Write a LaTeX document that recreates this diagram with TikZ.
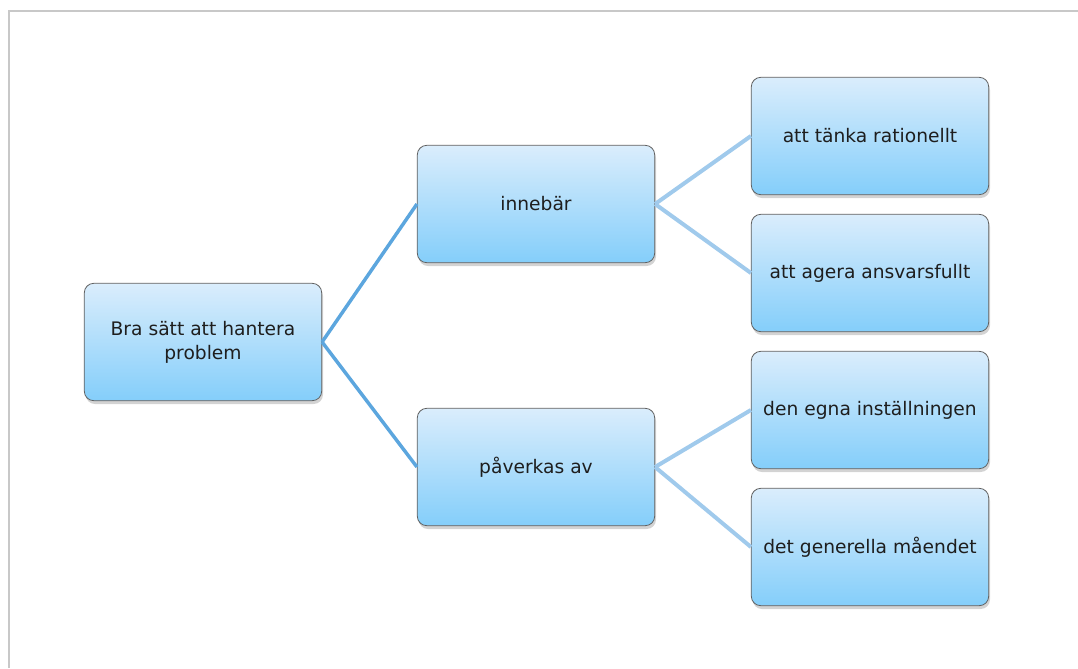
\documentclass[tikz,border=0pt]{standalone}
\usepackage{fontspec}
\setmainfont{DejaVu Sans}
\usepackage{tikz}
\usetikzlibrary{shadows}
\definecolor{boxtop}{RGB}{218,237,252}
\definecolor{boxbot}{RGB}{132,206,250}
\definecolor{boxline}{RGB}{95,95,95}
\definecolor{boxtext}{RGB}{30,30,30}
\definecolor{linkdark}{RGB}{92,166,222}
\definecolor{linklight}{RGB}{160,202,236}
\definecolor{framegray}{RGB}{200,200,200}
\tikzstyle{box}  = [draw=boxline,rectangle,rounded corners=7pt,line width=0.6pt,top color=boxtop,bottom color=boxbot,minimum width=178pt,minimum height=88pt,align=center,text=boxtext,font=\fontsize{14}{18}\selectfont,drop shadow={shadow xshift=1pt,shadow yshift=-2.5pt,opacity=0.35}]

\begin{document}
\begin{tikzpicture}[x=0.75pt,y=-0.75pt]
\useasboundingbox (0,0) rectangle (1078,668);
\draw[framegray,line width=1.5pt] (9,668) -- (9,11) -- (1078,11);

\node[box] (root)  at (203,342) {Bra sätt att hantera\\problem};
\node[box] (inneb) at (536,204) {innebär};
\node[box] (paverk) at (536,467) {påverkas av};

\node[box] (L1) at (870,136) {att tänka rationellt};
\node[box] (L2) at (870,273) {att agera ansvarsfullt};
\node[box] (L3) at (870,410) {den egna inställningen};
\node[box] (L4) at (870,547) {det generella måendet};

\path[draw=linkdark,line width=2.6pt]
	(root.east) edge (inneb.west)
	(root.east) edge (paverk.west);

\path[draw=linklight,line width=3pt]
	(inneb.east) edge (L1.west)
	(inneb.east) edge (L2.west)
	(paverk.east) edge (L3.west)
	(paverk.east) edge (L4.west);

\end{tikzpicture}
\end{document}
